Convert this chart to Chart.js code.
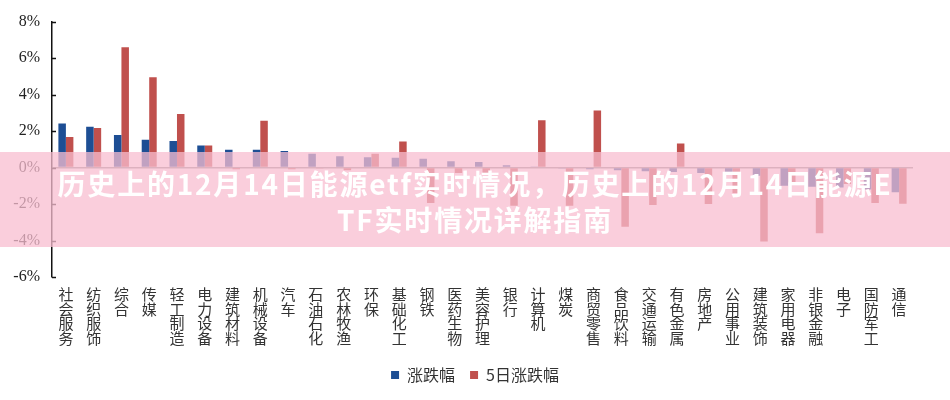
<!DOCTYPE html>
<html>
<head>
<meta charset="utf-8">
<script src="https://cdn.jsdelivr.net/npm/chart.js@4.4.1/dist/chart.umd.min.js"></script>
<style>
  html, body { margin: 0; padding: 0; background: #fff; }
  #wrap { position: relative; width: 950px; height: 400px; }
  #banner {
    position: absolute; left: 0; top: 152px; width: 950px; height: 95px;
    background: rgba(248, 190, 208, 0.75);
    color: #fff; font-family: 'Noto Sans CJK SC', sans-serif; font-weight: 700;
    font-size: 28px; line-height: 36px; letter-spacing: 1.8px;
    text-align: center; box-sizing: border-box; padding-top: 13px;
  }
</style>
</head>
<body>
<div id="wrap">
  <canvas id="industryChart" width="950" height="400"></canvas>
  <div id="banner">
    <div>历史上的12月14日能源etf实时情况，历史上的12月14日能源E</div>
    <div>TF实时情况详解指南</div>
  </div>
</div>
<script>
// industries, ranked by daily change
const categories = [
  '社会服务', '纺织服饰', '综合', '传媒', '轻工制造', '电力设备', '建筑材料', '机械设备',
  '汽车', '石油石化', '农林牧渔', '环保', '基础化工', '钢铁', '医药生物', '美容护理',
  '银行', '计算机', '煤炭', '商贸零售', '食品饮料', '交通运输', '有色金属', '房地产',
  '公用事业', '建筑装饰', '家用电器', '非银金融', '电子', '国防军工', '通信'
];
// 涨跌幅 (%)
const dailyChange = [
  2.41, 2.23, 1.79, 1.52, 1.45, 1.21, 0.98, 0.97,
  0.90, 0.76, 0.62, 0.57, 0.54, 0.48, 0.35, 0.30,
  0.12, 0.03, -0.05, -0.10, -0.15, -0.20, -0.25, -0.30,
  -0.35, -0.45, -1.00, -1.05, -1.10, -1.20, -1.35
];
// 5日涨跌幅 (%)
const fiveDayChange = [
  1.68, 2.17, 6.60, 4.95, 2.93, 1.21, -0.10, 2.57,
  -0.10, -0.05, -0.15, 0.76, 1.43, -1.95, -0.30, -0.40,
  -2.10, 2.59, -2.10, 3.13, -3.25, -2.05, 1.32, -2.00,
  -1.40, -4.06, -0.80, -3.60, -0.90, -1.95, -1.98
];
const yTicks = [-6, -4, -2, 0, 2, 4, 6, 8];

Chart.defaults.font.family = "'Noto Sans CJK SC', sans-serif";
Chart.defaults.color = '#333';

// small tick marks on the inner side of the y axis
const innerTicks = {
  id: 'innerTicks',
  afterDraw(chart) {
    const y = chart.scales.y;
    const ctx = chart.ctx;
    ctx.save();
    ctx.strokeStyle = '#111';
    ctx.lineWidth = 1.5;
    y.ticks.forEach(t => {
      const py = Math.round(y.getPixelForValue(t.value)) + 0.5;
      ctx.beginPath();
      ctx.moveTo(y.right, py);
      ctx.lineTo(y.right + 4, py);
      ctx.stroke();
    });
    ctx.restore();
  }
};

const ctx = document.getElementById('industryChart').getContext('2d');
new Chart(ctx, {
  type: 'bar',
  data: {
    labels: categories.map(c => c.split('')),
    datasets: [{
      label: '涨跌幅',
      data: dailyChange,
      backgroundColor: '#1d4e94'
    }, {
      label: '5日涨跌幅',
      data: fiveDayChange,
      backgroundColor: '#c0504d'
    }]
  },
  options: {
    responsive: false,
    animation: false,
    layout: { padding: { top: 14, right: 0, left: 0, bottom: 7 } },
    datasets: { bar: { categoryPercentage: 0.54, barPercentage: 1.0 } },
    plugins: {
      legend: {
        position: 'bottom',
        labels: {
          boxWidth: 8, boxHeight: 8, padding: 15,
          font: { size: 16 }, color: '#333'
        }
      },
      tooltip: { enabled: false }
    },
    scales: {
      x: {
        grid: { display: false },
        border: { display: false },
        ticks: {
          autoSkip: false, maxRotation: 0, minRotation: 0, padding: 2,
          font: { size: 15, lineHeight: 0.98 }, color: '#333'
        },
        afterFit(s) { s.height = 75; }
      },
      y: {
        min: -6, max: 8,
        afterBuildTicks(s) { s.ticks = yTicks.map(v => ({ value: v })); },
        grid: {
          drawTicks: false,
          color: c => (c.tick && c.tick.value === 0 ? '#8c8c8c' : 'rgba(0,0,0,0)'),
          lineWidth: 1.5
        },
        border: { display: true, color: '#111', width: 1.5 },
        ticks: {
          padding: 12,
          font: { family: "'Liberation Serif', 'DejaVu Serif', serif", size: 16 },
          color: '#222',
          callback: v => v + '%'
        },
        afterFit(s) { s.width = 52; }
      },
      // empty right-hand strip so the legend stays centred on the page
      spacer: {
        type: 'linear', position: 'right', display: true,
        grid: { display: false }, border: { display: false },
        ticks: { display: false },
        afterFit(s) { s.width = 37; }
      }
    }
  },
  plugins: [innerTicks]
});
</script>
</body>
</html>
